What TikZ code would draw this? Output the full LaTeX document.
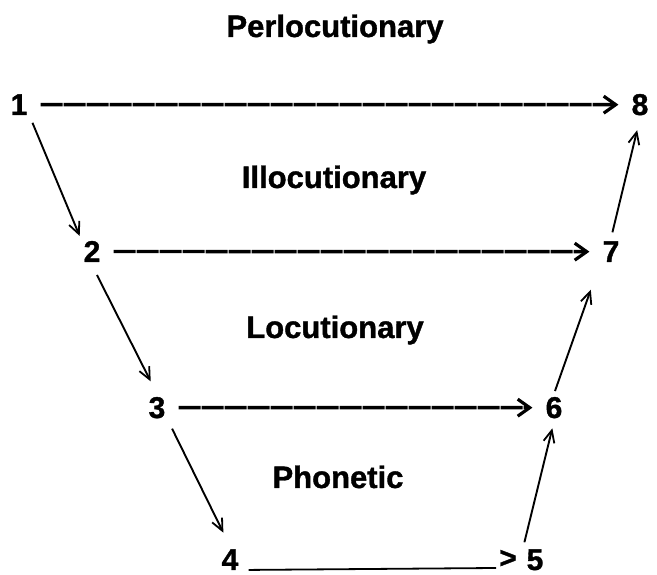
\documentclass[tikz,border=0pt]{standalone}
\usepackage{fontspec}
\setmainfont{Liberation Sans}[BoldFeatures={FakeBold=1.2}]
\usepackage{tikz}
\usetikzlibrary{arrows.meta,calc}
\tikzset{
  num/.style ={font=\fontsize{30}{32}\selectfont\bfseries,inner sep=3pt,anchor=base},
  act/.style ={font=\fontsize{31}{33}\selectfont\bfseries,inner sep=0pt,anchor=base},
  fwd/.style ={-{Straight Barb[length=12pt,width=17pt,line width=3.2pt]},line width=3.4pt,
               dash pattern=on 22pt off 1pt,shorten <=10pt,shorten >=10pt},
  flat/.style={line width=1.8pt,shorten <=7pt},
  dia/.style ={-{Straight Barb[length=12pt,width=11pt,line width=1.8pt]},line width=1.9pt},
}

\begin{document}
\begin{tikzpicture}[x=1pt,y=1pt]
\useasboundingbox (0,0) rectangle (657,575);

\node[act] (perl)  at (335,538) {Perlocutionary};
\node[act] (illoc) at (334,387) {Illocutionary};
\node[act] (loc)   at (335,237) {Locutionary};
\node[act] (phon)  at (338,87)  {Phonetic};

\node[num] (n1) at (19,460)  {1};
\node[num] (n2) at (92,313)  {2};
\node[num] (n3) at (157,157) {3};
\node[num] (n4) at (230,5)   {4};
\node[num] (n5) at (535,5)   {5};
\node[num] (n6) at (554,157) {6};
\node[num] (n7) at (611,313) {7};
\node[num] (n8) at (640,460) {8};
\node[num] (gt) at (508,7)   {>};

\draw[fwd] (n1.east) -- (n8.west);
\draw[fwd] (n2.east) -- (n7.west);
\draw[fwd] (n3.east) -- (n6.west);
\draw[flat] (n4.base east) -- (gt.base west);

\draw[dia,shorten <=5pt,shorten >=2pt]  (n1.south east) -- (n2.north west);
\draw[dia,shorten <=11pt,shorten >=14pt] (n2.south) -- (n3.north);
\draw[dia,shorten <=8pt,shorten >=15pt]  (n3.south east) -- (n4.north);
\draw[dia,shorten <=4pt,shorten >=7pt]   (n5.north west) -- (n6.south);
\draw[dia,shorten <=3pt,shorten >=26pt]  (n6.north) -- (n7.south west);
\draw[dia,shorten <=6pt,shorten >=12pt]  (n7.north) -- (n8.south);
\end{tikzpicture}
\end{document}
